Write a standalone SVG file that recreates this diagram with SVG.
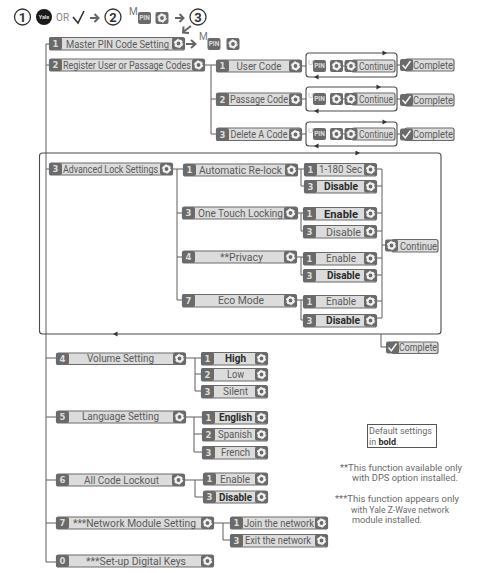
<svg xmlns="http://www.w3.org/2000/svg" xmlns:xlink="http://www.w3.org/1999/xlink" width="479" height="573" viewBox="0 0 479 573">
<style>
text{font-family:Roboto,"Liberation Sans",sans-serif;font-size:10px;fill:#5a5a5a}
.t{text-anchor:middle}
.b{font-weight:700;fill:#2b2b2b}
.n{font-family:"DejaVu Sans",sans-serif;font-size:8.5px;font-weight:700;fill:#dcdcdc;text-anchor:middle}
.lb{fill:#dcdcdc;stroke:#6a6a6a;stroke-width:1.2}
.nb{fill:#6a6a6a}
.c{fill:none;stroke:#5f5f5f;stroke-width:1}
.loop{fill:none;stroke:#4a4a4a;stroke-width:1.1}
.num{fill:#fff;stroke:#333;stroke-width:1.3}
.numt{font-size:13px;font-weight:700;fill:#333;text-anchor:middle}
.note{font-size:9px;fill:#6a6a6a}
.pin{font-size:6.5px;fill:#ddd;text-anchor:middle;font-weight:700}
.sup{font-size:10px;fill:#777}
.sup2{font-size:8px;fill:#bbb}
.arr{fill:none;stroke:#666;stroke-width:2}
</style>
<defs>
<g id="gear"><rect x="-6.500" y="-6" width="13" height="12" rx="2" fill="#6a6a6a"/><circle r="2.900" fill="none" stroke="#f2f2f2" stroke-width="2"/><circle r="4.200" fill="none" stroke="#f2f2f2" stroke-width="1" stroke-dasharray="2.200 2.200"/></g>
<g id="pinb"><rect x="-6.500" y="-6" width="13" height="12" rx="2" fill="#6a6a6a"/><text class="pin" y="2.300">PIN</text></g>
<g id="chk"><rect x="-6.500" y="-6" width="13" height="12" rx="2" fill="#6a6a6a"/><path d="M-4 0L-1.200 3.200L4 -4" fill="none" stroke="#f2f2f2" stroke-width="1.500"/></g>
<path id="ah" d="M-2.500 -2.500L2 0L-2.500 2.500Z" fill="#333"/>
</defs>

<g id="connectors">
<path class="c" d="M49 44H46V562H56M46 65H49M46 169H49M46 358H56M46 417H56M46 480H56M46 523H56"/>
<path class="c" d="M205 65H216M211 65V134H216M211 99H216"/>
<path class="c" d="M302 66H306M302 99H306M302 134H306M397 65H400M397 99H400M397 134H400M343 66H345M343 99H345M343 134H345"/>
<path class="c" d="M173 169H183M177 169V300H182M177 213H182M177 257H182"/>
<path class="c" d="M298 169H304M301 169V186H304M298 213H303M301 213V231H304M297 257H303M301 257V275H304M297 300H303M301 300V320H304"/>
<path class="c" d="M377 169H382M377 186H382M377 213H382M377 231H382M377 258H382M377 275H382M377 301H382M377 318H382M382 169V318M382 245H385"/>
<path class="c" d="M381 334V347H386"/>
<path class="c" d="M186 358H201M195 358V391H201M195 374H201"/>
<path class="c" d="M186 417H202M194 417V452H202M194 434H202"/>
<path class="c" d="M185 480H203M195 480V497H203"/>
<path class="c" d="M214 523H230M223 523V540H230"/>
<rect class="loop" x="306" y="53" width="91" height="24" rx="3"/>
<rect class="loop" x="306" y="87" width="91" height="24" rx="3"/>
<rect class="loop" x="306" y="122" width="91" height="24" rx="3"/>
<rect class="loop" x="39.500" y="153" width="401.500" height="181" rx="3"/>
<use href="#ah" x="385" y="53"/><use href="#ah" x="379" y="87"/><use href="#ah" x="385" y="122"/><use href="#ah" x="358" y="153"/>
<use href="#ah" transform="translate(316 77) rotate(180)"/><use href="#ah" transform="translate(316 111) rotate(180)"/><use href="#ah" transform="translate(316 146) rotate(180)"/><use href="#ah" transform="translate(115 334) rotate(180)"/>
</g>

<g id="header">
<circle class="num" cx="22.500" cy="17" r="8"/><text class="numt" x="22.500" y="21.500">1</text>
<circle cx="44" cy="17" r="8" fill="#1a1a1a"/><text x="44" y="19" style="font-size:5.500px;font-weight:700;fill:#ddd;text-anchor:middle">Yale</text>
<text x="56" y="20.500" style="fill:#888;font-size:10px">OR</text>
<path d="M73 17L78 23L84 11" fill="none" stroke="#333" stroke-width="1.600"/>
<path class="arr" d="M90 18H98M94.500 14L98.500 18L94.500 22"/>
<circle class="num" cx="113" cy="17" r="8"/><text class="numt" x="113" y="21.500">2</text>
<text class="sup" x="129" y="15">M</text><use href="#pinb" x="144.500" y="18"/><use href="#gear" x="162" y="18"/>
<path class="arr" d="M175 18H183M179.500 14L183.500 18L179.500 22"/>
<circle class="num" cx="198" cy="17" r="8"/><text class="numt" x="198" y="21.500">3</text>
<path class="arr" d="M191 26L183 32M183.500 26.500L183 32.500L189 33"/>
<path class="arr" d="M186 44H195M191 40L195.500 44L191 48"/>
<text class="sup" x="199" y="40">M</text><use href="#pinb" x="214" y="44"/><use href="#gear" x="233" y="44"/>
</g>

<g id="n1"><rect class="lb" x="49.500" y="37.500" width="135" height="12.500" rx="2"/><rect class="nb" x="49" y="37" width="13" height="13" rx="2"/><text class="n" x="55.500" y="47">1</text><text class="t" x="117.500" y="47.500" textLength="103" lengthAdjust="spacingAndGlyphs">Master PIN Code Setting</text><use href="#gear" x="178.500" y="43.500"/></g>
<g id="n2"><rect class="lb" x="49.500" y="59" width="155" height="12" rx="2"/><rect class="nb" x="49" y="59" width="13" height="12" rx="2"/><text class="n" x="55.500" y="68">2</text><text class="t" x="127" y="68.500" textLength="128" lengthAdjust="spacingAndGlyphs">Register User or Passage Codes</text><use href="#gear" x="198.500" y="65"/></g>

<g id="n21"><rect class="lb" x="216.500" y="60" width="85" height="12" rx="2"/><rect class="nb" x="216" y="60" width="13" height="12" rx="2"/><text class="n" x="222.500" y="69">1</text><text class="t" x="259" y="69.500" textLength="45" lengthAdjust="spacingAndGlyphs">User Code</text><use href="#gear" x="295.500" y="66"/></g>
<g id="n22"><rect class="lb" x="216.500" y="93" width="85" height="12.500" rx="2"/><rect class="nb" x="216" y="93" width="13" height="13" rx="2"/><text class="n" x="222.500" y="102.500">2</text><text class="t" x="259" y="103" textLength="58" lengthAdjust="spacingAndGlyphs">Passage Code</text><use href="#gear" x="295.500" y="99.500"/></g>
<g id="n23"><rect class="lb" x="216.500" y="128" width="85" height="12.500" rx="2"/><rect class="nb" x="216" y="128" width="13" height="13" rx="2"/><text class="n" x="222.500" y="137.500">3</text><text class="t" x="259" y="138" textLength="57" lengthAdjust="spacingAndGlyphs">Delete A Code</text><use href="#gear" x="295.500" y="134.500"/></g>

<g id="s1"><text class="sup2" x="308" y="65">U</text><use href="#pinb" x="319.500" y="66"/><use href="#gear" x="336.500" y="66"/><rect class="lb" x="352" y="60" width="43" height="12" rx="2"/><use href="#gear" x="351" y="66"/><text x="359" y="69.500" textLength="34" lengthAdjust="spacingAndGlyphs">Continue</text></g>
<g id="s2"><text class="sup2" x="308" y="98">U</text><use href="#pinb" x="319.500" y="99"/><use href="#gear" x="336.500" y="99"/><rect class="lb" x="352" y="93" width="43" height="12" rx="2"/><use href="#gear" x="351" y="99"/><text x="359" y="102.500" textLength="34" lengthAdjust="spacingAndGlyphs">Continue</text></g>
<g id="s3"><text class="sup2" x="308" y="133">U</text><use href="#pinb" x="319.500" y="134"/><use href="#gear" x="336.500" y="134"/><rect class="lb" x="352" y="128" width="43" height="12" rx="2"/><use href="#gear" x="351" y="134"/><text x="359" y="137.500" textLength="34" lengthAdjust="spacingAndGlyphs">Continue</text></g>
<g id="c1"><rect class="lb" x="405" y="59" width="49" height="12" rx="2"/><use href="#chk" x="406.500" y="65"/><text x="413" y="68.500" textLength="40" lengthAdjust="spacingAndGlyphs">Complete</text></g>
<g id="c2"><rect class="lb" x="405" y="94" width="49" height="12" rx="2"/><use href="#chk" x="406.500" y="100"/><text x="413" y="103.500" textLength="40" lengthAdjust="spacingAndGlyphs">Complete</text></g>
<g id="c3"><rect class="lb" x="405" y="128" width="49" height="12.500" rx="2"/><use href="#chk" x="406.500" y="134.500"/><text x="413" y="138" textLength="40" lengthAdjust="spacingAndGlyphs">Complete</text></g>

<g id="n3"><rect class="lb" x="49.500" y="163" width="123" height="12" rx="2"/><rect class="nb" x="49" y="163" width="13" height="12" rx="2"/><text class="n" x="55.500" y="172">3</text><text class="t" x="110.500" y="172.500" textLength="95" lengthAdjust="spacingAndGlyphs">Advanced Lock Settings</text><use href="#gear" x="166.500" y="169"/></g>
<g id="n31"><rect class="lb" x="183.500" y="164" width="114" height="12" rx="2"/><rect class="nb" x="183" y="164" width="13" height="12" rx="2"/><text class="n" x="189.500" y="173">1</text><text class="t" x="240.500" y="173.500" textLength="83" lengthAdjust="spacingAndGlyphs">Automatic Re-lock</text><use href="#gear" x="291.500" y="170"/></g>
<g id="n33"><rect class="lb" x="182.500" y="207" width="115" height="12" rx="2"/><rect class="nb" x="182" y="207" width="13" height="12" rx="2"/><text class="n" x="188.500" y="216">3</text><text class="t" x="240.500" y="216.500" textLength="85" lengthAdjust="spacingAndGlyphs">One Touch Locking</text><use href="#gear" x="290.500" y="213"/></g>
<g id="n34"><rect class="lb" x="182.500" y="251" width="114" height="12" rx="2"/><rect class="nb" x="182" y="251" width="13" height="12" rx="2"/><text class="n" x="188.500" y="260">4</text><text class="t" x="241.500" y="260.500" textLength="43" lengthAdjust="spacingAndGlyphs">**Privacy</text><use href="#gear" x="290.500" y="257"/></g>
<g id="n37"><rect class="lb" x="182.500" y="294.500" width="114" height="12.500" rx="2"/><rect class="nb" x="182" y="294" width="13" height="13" rx="2"/><text class="n" x="188.500" y="303.500">7</text><text class="t" x="241" y="304" textLength="46" lengthAdjust="spacingAndGlyphs">Eco Mode</text><use href="#gear" x="290.500" y="300.500"/></g>

<g id="o1"><rect class="lb" x="304.500" y="163.500" width="72" height="12.500" rx="2"/><rect class="nb" x="304" y="163" width="13" height="13" rx="2"/><text class="n" x="310.500" y="172.500">1</text><text class="t" x="340.500" y="173" textLength="43" lengthAdjust="spacingAndGlyphs">1-180 Sec</text><use href="#gear" x="370.500" y="169.500"/></g>
<g id="o2"><rect class="lb" x="304.500" y="180.500" width="72" height="12.500" rx="2"/><rect class="nb" x="304" y="180" width="13" height="13" rx="2"/><text class="n" x="310.500" y="189.500">3</text><text class="t b" x="341" y="190" textLength="34" lengthAdjust="spacingAndGlyphs">Disable</text><use href="#gear" x="370.500" y="186.500"/></g>
<g id="o3"><rect class="lb" x="303.500" y="207.500" width="73" height="12.500" rx="2"/><rect class="nb" x="303" y="207" width="13" height="13" rx="2"/><text class="n" x="309.500" y="216.500">1</text><text class="t b" x="341" y="217.500" style="font-size:11px" textLength="34" lengthAdjust="spacingAndGlyphs">Enable</text><use href="#gear" x="370.500" y="213.500"/></g>
<g id="o4"><rect class="lb" x="303.500" y="225.500" width="73" height="12.500" rx="2"/><rect class="nb" x="303" y="225" width="13" height="13" rx="2"/><text class="n" x="309.500" y="234.500">3</text><text class="t" x="343.500" y="235.500" style="font-size:11px" textLength="35" lengthAdjust="spacingAndGlyphs">Disable</text><use href="#gear" x="370.500" y="231.500"/></g>
<g id="o5"><rect class="lb" x="303.500" y="252.500" width="73" height="12.500" rx="2"/><rect class="nb" x="303" y="252" width="13" height="13" rx="2"/><text class="n" x="309.500" y="261.500">1</text><text class="t" x="341" y="262" textLength="30" lengthAdjust="spacingAndGlyphs">Enable</text><use href="#gear" x="370.500" y="258.500"/></g>
<g id="o6"><rect class="lb" x="303.500" y="269.500" width="73" height="12.500" rx="2"/><rect class="nb" x="303" y="269" width="13" height="13" rx="2"/><text class="n" x="309.500" y="278.500">3</text><text class="t b" x="343.500" y="279" textLength="33" lengthAdjust="spacingAndGlyphs">Disable</text><use href="#gear" x="370.500" y="275.500"/></g>
<g id="o7"><rect class="lb" x="303.500" y="295.500" width="73" height="12.500" rx="2"/><rect class="nb" x="303" y="295" width="13" height="13" rx="2"/><text class="n" x="309.500" y="304.500">1</text><text class="t" x="341" y="305" textLength="30" lengthAdjust="spacingAndGlyphs">Enable</text><use href="#gear" x="370.500" y="301.500"/></g>
<g id="o8"><rect class="lb" x="303.500" y="314.500" width="73" height="12.500" rx="2"/><rect class="nb" x="303" y="314" width="13" height="13" rx="2"/><text class="n" x="309.500" y="323.500">3</text><text class="t b" x="343" y="324" textLength="34" lengthAdjust="spacingAndGlyphs">Disable</text><use href="#gear" x="370.500" y="320.500"/></g>
<g id="cont"><rect class="lb" x="392" y="239.500" width="46" height="12.500" rx="2"/><use href="#gear" x="391.500" y="245.500"/><text x="400" y="249.500" textLength="37" lengthAdjust="spacingAndGlyphs">Continue</text></g>
<g id="comp"><rect class="lb" x="392" y="342" width="46" height="11.500" rx="2"/><use href="#chk" x="392.500" y="347.500"/><text x="399" y="351" textLength="38" lengthAdjust="spacingAndGlyphs">Complete</text></g>

<g id="n4"><rect class="lb" x="56.500" y="353" width="129" height="11.500" rx="2"/><rect class="nb" x="56" y="353" width="13" height="12" rx="2"/><text class="n" x="62.500" y="362">4</text><text class="t" x="120.500" y="361.500" textLength="67" lengthAdjust="spacingAndGlyphs">Volume Setting</text><use href="#gear" x="179.500" y="358.500"/></g>
<g id="v1"><rect class="lb" x="201.500" y="352.500" width="66" height="12.500" rx="2"/><rect class="nb" x="201" y="352" width="13" height="13" rx="2"/><text class="n" x="207.500" y="361.500">1</text><text class="t b" x="235.500" y="362" textLength="21" lengthAdjust="spacingAndGlyphs">High</text><use href="#gear" x="261.500" y="358.500"/></g>
<g id="v2"><rect class="lb" x="201.500" y="368.500" width="66" height="12.500" rx="2"/><rect class="nb" x="201" y="368" width="13" height="13" rx="2"/><text class="n" x="207.500" y="377.500">2</text><text class="t" x="235.500" y="378" textLength="17" lengthAdjust="spacingAndGlyphs">Low</text><use href="#gear" x="261.500" y="374.500"/></g>
<g id="v3"><rect class="lb" x="201.500" y="385.500" width="66" height="12.500" rx="2"/><rect class="nb" x="201" y="385" width="13" height="13" rx="2"/><text class="n" x="207.500" y="394.500">3</text><text class="t" x="235.500" y="395" textLength="25" lengthAdjust="spacingAndGlyphs">Silent</text><use href="#gear" x="261.500" y="391.500"/></g>

<g id="n5"><rect class="lb" x="56.500" y="411" width="129" height="12" rx="2"/><rect class="nb" x="56" y="411" width="13" height="12" rx="2"/><text class="n" x="62.500" y="420">5</text><text class="t" x="120.500" y="419.500" textLength="77" lengthAdjust="spacingAndGlyphs">Language Setting</text><use href="#gear" x="179.500" y="417"/></g>
<g id="l1"><rect class="lb" x="202.500" y="411.500" width="65" height="12.500" rx="2"/><rect class="nb" x="202" y="411" width="13" height="13" rx="2"/><text class="n" x="208.500" y="420.500">1</text><text class="t b" x="235.500" y="421" textLength="33" lengthAdjust="spacingAndGlyphs">English</text><use href="#gear" x="261.500" y="417.500"/></g>
<g id="l2"><rect class="lb" x="202.500" y="428.500" width="65" height="12.500" rx="2"/><rect class="nb" x="202" y="428" width="13" height="13" rx="2"/><text class="n" x="208.500" y="437.500">2</text><text class="t" x="235" y="438" textLength="34" lengthAdjust="spacingAndGlyphs">Spanish</text><use href="#gear" x="261.500" y="434.500"/></g>
<g id="l3"><rect class="lb" x="202.500" y="446.500" width="65" height="12.500" rx="2"/><rect class="nb" x="202" y="446" width="13" height="13" rx="2"/><text class="n" x="208.500" y="455.500">3</text><text class="t" x="235.500" y="456" textLength="29" lengthAdjust="spacingAndGlyphs">French</text><use href="#gear" x="261.500" y="452.500"/></g>

<g id="n6"><rect class="lb" x="56.500" y="474" width="128" height="12" rx="2"/><rect class="nb" x="56" y="474" width="13" height="12" rx="2"/><text class="n" x="62.500" y="483">6</text><text class="t" x="121.500" y="484" textLength="75" lengthAdjust="spacingAndGlyphs">All Code Lockout</text><use href="#gear" x="178.500" y="480"/></g>
<g id="a1"><rect class="lb" x="203.500" y="473" width="64" height="12" rx="2"/><rect class="nb" x="203" y="473" width="13" height="12" rx="2"/><text class="n" x="209.500" y="482">1</text><text class="t" x="235" y="482.500" textLength="30" lengthAdjust="spacingAndGlyphs">Enable</text><use href="#gear" x="261.500" y="479"/></g>
<g id="a2"><rect class="lb" x="203.500" y="491" width="64" height="12" rx="2"/><rect class="nb" x="203" y="491" width="13" height="12" rx="2"/><text class="n" x="209.500" y="500">3</text><text class="t b" x="235.500" y="500.500" textLength="33" lengthAdjust="spacingAndGlyphs">Disable</text><use href="#gear" x="261.500" y="497"/></g>

<g id="n7"><rect class="lb" x="56.500" y="517" width="157" height="12" rx="2"/><rect class="nb" x="56" y="517" width="13" height="12" rx="2"/><text class="n" x="62.500" y="526">7</text><text class="t" x="134.500" y="526.500" textLength="123" lengthAdjust="spacingAndGlyphs">***Network Module Setting</text><use href="#gear" x="207.500" y="523"/></g>
<g id="k1"><rect class="lb" x="230.500" y="517" width="97" height="12" rx="2"/><rect class="nb" x="230" y="517" width="13" height="12" rx="2"/><text class="n" x="236.500" y="526">1</text><text class="t" x="279" y="526.500" textLength="70" lengthAdjust="spacingAndGlyphs">Join the network</text><use href="#gear" x="321.500" y="523"/></g>
<g id="k2"><rect class="lb" x="230.500" y="534.500" width="97" height="12.500" rx="2"/><rect class="nb" x="230" y="534" width="13" height="13" rx="2"/><text class="n" x="236.500" y="543.500">3</text><text class="t" x="278" y="544" textLength="66" lengthAdjust="spacingAndGlyphs">Exit the network</text><use href="#gear" x="321.500" y="540.500"/></g>
<g id="n0"><rect class="lb" x="56.500" y="555" width="157" height="12" rx="2"/><rect class="nb" x="56" y="555" width="13" height="12" rx="2"/><text class="n" x="62.500" y="564">0</text><text class="t" x="136" y="564.500" textLength="100" lengthAdjust="spacingAndGlyphs">***Set-up Digital Keys</text><use href="#gear" x="207.500" y="561"/></g>

<g id="legend">
<rect x="367.500" y="424.500" width="69" height="23" fill="#fff" stroke="#555" stroke-width="1"/>
<text class="note" x="369" y="433.500" textLength="63" lengthAdjust="spacingAndGlyphs">Default settings</text>
<text class="note" x="369" y="444.500">in <tspan class="b" style="font-size:9px">bold</tspan>.</text>
<text class="note" x="340" y="471" textLength="122" lengthAdjust="spacingAndGlyphs">**This function available only</text>
<text class="note" x="352" y="481" textLength="106" lengthAdjust="spacingAndGlyphs">with DPS option installed.</text>
<text class="note" x="335" y="502" textLength="124" lengthAdjust="spacingAndGlyphs">***This function appears only</text>
<text class="note" x="351" y="513" textLength="98" lengthAdjust="spacingAndGlyphs">with Yale Z-Wave network</text>
<text class="note" x="352" y="523" textLength="70" lengthAdjust="spacingAndGlyphs">module installed.</text>
</g>
</svg>
